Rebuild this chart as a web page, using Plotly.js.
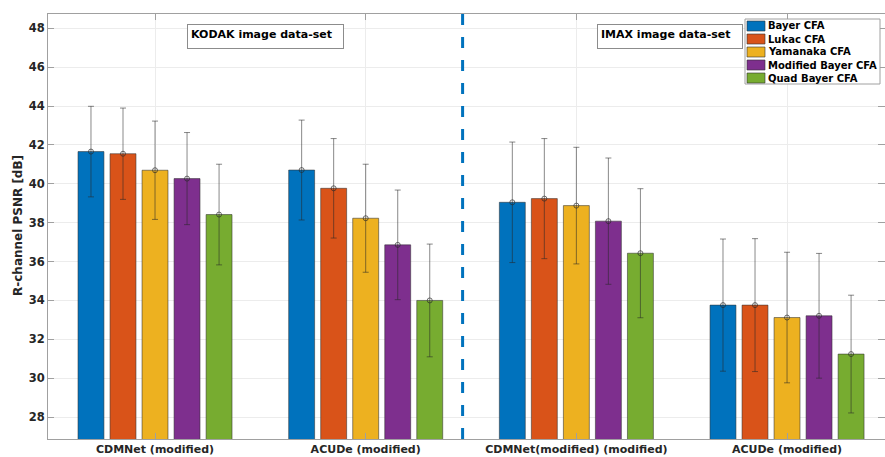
<!DOCTYPE html>
<html>
<head>
<meta charset="utf-8">
<script src="https://cdn.plot.ly/plotly-3.0.1.min.js"></script>
<style>
  html, body { margin: 0; padding: 0; background: #fff; }
  #chart { width: 885px; height: 457px; }
</style>
</head>
<body>
<div id="chart"></div>
<script>
// Demosaicking methods (two per data set) and their x positions
const categories = ['CDMNet (modified)', 'ACUDe (modified)', 'CDMNet(modified) (modified)', 'ACUDe (modified)'];
const xPos = [1, 2, 3, 4];

// CFA patterns
const seriesNames = ['Bayer CFA', 'Lukac CFA', 'Yamanaka CFA', 'Modified Bayer CFA', 'Quad Bayer CFA'];
const seriesColors = ['#0072BD', '#D95319', '#EDB120', '#7E2F8E', '#77AC30'];

// Mean R-channel PSNR [dB]
const bayer    = [41.66, 40.71, 39.05, 33.76];
const lukac    = [41.55, 39.77, 39.24, 33.76];
const yamanaka = [40.70, 38.23, 38.88, 33.12];
const modBayer = [40.27, 36.86, 38.08, 33.21];
const quad     = [38.42, 34.00, 36.43, 31.24];

// Standard deviation [dB]
const bayerStd    = [2.33, 2.57, 3.10, 3.40];
const lukacStd    = [2.35, 2.56, 3.09, 3.42];
const yamanakaStd = [2.53, 2.78, 3.00, 3.36];
const modBayerStd = [2.37, 2.82, 3.25, 3.21];
const quadStd     = [2.59, 2.90, 3.32, 3.03];

// Tick values of the PSNR axis
const yTicks = [28, 30, 32, 34, 36, 38, 40, 42, 44, 46, 48];
const yRange = [26.87, 48.74];

// Boundary between the KODAK and IMAX halves
const datasetSplit = 2.46;
const datasetLabels = ['KODAK image data-set', 'IMAX image data-set'];

const means = [bayer, lukac, yamanaka, modBayer, quad];
const stds = [bayerStd, lukacStd, yamanakaStd, modBayerStd, quadStd];

const FONT = 'DejaVu Sans, Liberation Sans, sans-serif';
const errColor = 'rgba(40,40,40,0.55)';
const axisGray = '#a0a0a0';

const traces = [];
means.forEach((m, i) => {
  traces.push({
    type: 'bar',
    name: seriesNames[i],
    x: xPos,
    y: m,
    offsetgroup: String(i),
    marker: { color: seriesColors[i], line: { color: 'rgba(50,50,50,0.55)', width: 1 } },
    error_y: { type: 'data', array: stds[i], visible: true, color: errColor, thickness: 1, width: 3 },
    showlegend: false,
    hoverinfo: 'skip'
  });
});
// small circle markers at the mean of each bar
means.forEach((m, i) => {
  traces.push({
    type: 'scatter',
    mode: 'markers',
    x: xPos,
    y: m,
    offsetgroup: String(i),
    marker: { symbol: 'circle-open', size: 5, color: 'rgba(40,40,40,0.65)', line: { width: 1 } },
    showlegend: false,
    hoverinfo: 'skip'
  });
});
// invisible trace that carries the right-hand tick marks
traces.push({
  type: 'scatter', mode: 'markers', x: [xPos[0]], y: [yTicks[0]], yaxis: 'y2',
  marker: { opacity: 0 }, showlegend: false, hoverinfo: 'skip'
});

// plot area in pixels
const L = 48, T = 14, W = 837, H = 425;
const px = x => (x - L) / W;
const py = y => (T + H - y) / H;

const shapes = [
  {
    type: 'line', xref: 'x', yref: 'paper',
    x0: datasetSplit, x1: datasetSplit, y0: 0, y1: 1,
    line: { color: '#0072BD', width: 3, dash: '11px,12px' }
  },
  // legend frame
  {
    type: 'rect', xref: 'paper', yref: 'paper',
    x0: px(745), x1: px(880), y0: py(84), y1: py(19),
    line: { color: axisGray, width: 1 }, fillcolor: '#ffffff', layer: 'above'
  }
];
const annotations = [];

seriesNames.forEach((name, i) => {
  const cy = 26 + i * 13;
  shapes.push({
    type: 'rect', xref: 'paper', yref: 'paper',
    x0: px(747), x1: px(765), y0: py(cy + 5), y1: py(cy - 5),
    fillcolor: seriesColors[i], line: { color: 'rgba(50,50,50,0.6)', width: 1 }, layer: 'above'
  });
  annotations.push({
    xref: 'paper', yref: 'paper', x: px(766), y: py(cy),
    xanchor: 'left', yanchor: 'middle', showarrow: false,
    text: name, font: { family: FONT, size: 10, weight: 'bold', color: '#000' }
  });
});

// data-set boxes
annotations.push({
  xref: 'paper', yref: 'paper', x: px(187), y: py(24),
  xanchor: 'left', yanchor: 'top', showarrow: false, align: 'left', valign: 'top',
  width: 149, height: 17, borderpad: 3, bordercolor: '#8c8c8c', borderwidth: 1, bgcolor: '#fff',
  text: datasetLabels[0], font: { family: FONT, size: 11, weight: 'bold', color: '#000' }
});
annotations.push({
  xref: 'paper', yref: 'paper', x: px(597), y: py(24),
  xanchor: 'left', yanchor: 'top', showarrow: false, align: 'left', valign: 'top',
  width: 138, height: 17, borderpad: 3, bordercolor: '#8c8c8c', borderwidth: 1, bgcolor: '#fff',
  text: datasetLabels[1], font: { family: FONT, size: 11, weight: 'bold', color: '#000' }
});

// y-axis label
annotations.push({
  xref: 'paper', yref: 'paper', x: px(18), y: py(226),
  xanchor: 'center', yanchor: 'middle', showarrow: false, textangle: -90,
  text: 'R-channel PSNR [dB]', font: { family: FONT, size: 12, weight: 'bold', color: '#262626' }
});

const layout = {
  width: 885, height: 457,
  margin: { l: L, r: 885 - L - W, t: T, b: 457 - T - H, pad: 0 },
  paper_bgcolor: '#ffffff', plot_bgcolor: '#ffffff',
  barmode: 'group', bargap: 0.24, bargroupgap: 0.19,
  scattermode: 'group', scattergap: 0.24,
  showlegend: false,
  font: { family: FONT, size: 11, color: '#262626', weight: 'bold' },
  xaxis: {
    range: [0.492, 4.465],
    tickvals: xPos, ticktext: categories,
    ticks: 'inside', ticklen: 6, tickcolor: axisGray,
    showline: true, linecolor: axisGray, linewidth: 1, mirror: 'ticks',
    showgrid: true, gridcolor: '#ececec', zeroline: false,
    tickfont: { family: FONT, size: 11, weight: 'bold', color: '#262626' }
  },
  yaxis: {
    range: yRange,
    tickvals: yTicks,
    ticks: 'inside', ticklen: 6, tickcolor: axisGray,
    showline: true, linecolor: axisGray, linewidth: 1, mirror: false,
    showgrid: true, gridcolor: '#ececec', zeroline: false,
    tickfont: { family: FONT, size: 11.5, weight: 'bold', color: '#262626' }
  },
  yaxis2: {
    overlaying: 'y', side: 'right', range: yRange,
    tickvals: yTicks, showticklabels: false,
    ticks: 'inside', ticklen: 7, tickcolor: axisGray,
    showline: false, showgrid: false, zeroline: false
  },
  shapes: shapes,
  annotations: annotations
};

Plotly.newPlot('chart', traces, layout, { staticPlot: true, displayModeBar: false });
</script>
</body>
</html>
